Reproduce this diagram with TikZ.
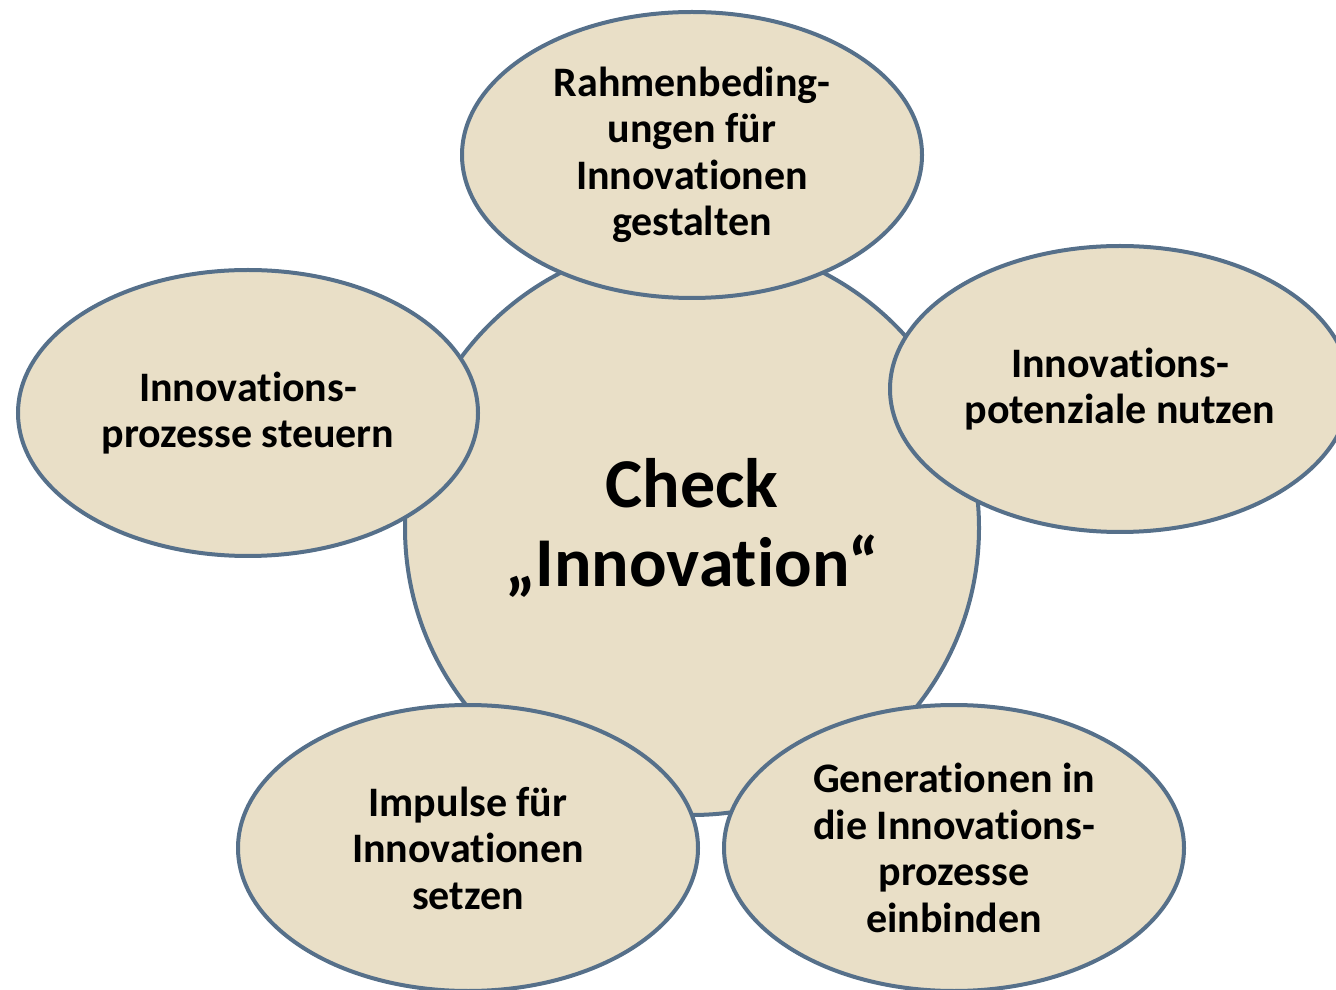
\documentclass[tikz,border=0pt]{standalone}
\usepackage{fontspec}
\setmainfont{Carlito}[Ligatures={NoCommon}]
\usetikzlibrary{shapes.geometric}
\definecolor{fillc}{HTML}{E9DFC7}
\definecolor{linec}{HTML}{56708A}
\tikzset{
  bubble/.style={ellipse, draw=linec, fill=fillc, line width=4pt, minimum width=460pt, minimum height=286pt, inner sep=0pt, align=center, font=\fontsize{42}{46.5}\selectfont\bfseries},
  hub/.style={circle, draw=linec, fill=fillc, line width=4pt, minimum size=574pt, inner sep=0pt, align=center, font=\fontsize{70}{79}\selectfont\bfseries}
}
\begin{document}
\begin{tikzpicture}[x=1pt,y=1pt]
\useasboundingbox (0,0) rectangle (1336,989);
\clip (0,0) rectangle (1336,989);
\node[hub] (center) at (692,461) {Check\\„Innovation“};
\node[bubble] (top) at (692,834) {Rahmenbeding-\\ungen für\\Innovationen\\gestalten};
\node[bubble] (left) at (248,576) {Innovations-\\prozesse steuern};
\node[bubble] (right) at (1120,600) {Innovations-\\potenziale nutzen};
\node[bubble] (bl) at (468,141) {Impulse für\\Innovationen\\setzen};
\node[bubble] (br) at (954,141) {Generationen in\\die Innovations-\\prozesse\\einbinden};
\end{tikzpicture}
\end{document}
